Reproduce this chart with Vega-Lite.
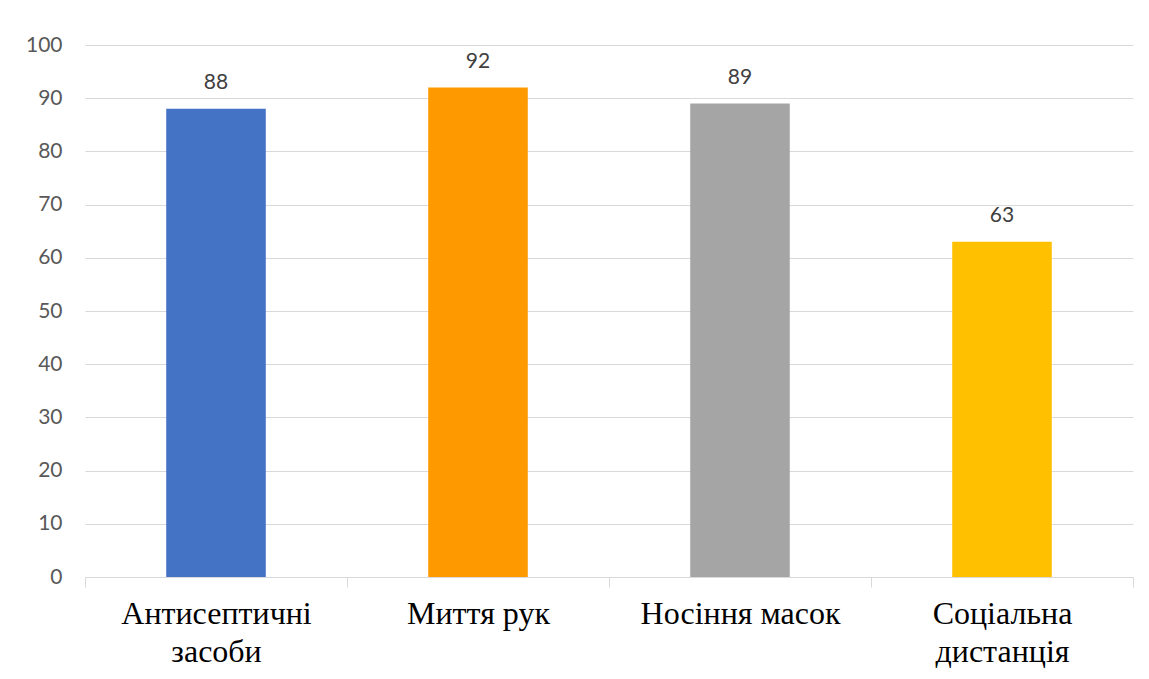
{
  "$schema": "https://vega.github.io/schema/vega-lite/v6.json",
  "width": 1048,
  "height": 532,
  "autosize": "none",
  "padding": {"left": 85, "top": 45, "right": 16, "bottom": 102},
  "background": "white",
  "config": {"view": {"stroke": null}},
  "data": {
    "values": [
      {"category": "Антисептичні засоби", "value": 88},
      {"category": "Миття рук", "value": 92},
      {"category": "Носіння масок", "value": 89},
      {"category": "Соціальна дистанція", "value": 63}
    ]
  },
  "encoding": {
    "x": {
      "field": "category",
      "type": "nominal",
      "sort": null,
      "scale": {"paddingInner": 0, "paddingOuter": 0},
      "axis": {
        "title": null,
        "labelAngle": 0,
        "labelFont": "Liberation Serif",
        "labelFontSize": 32,
        "labelColor": "#000000",
        "labelLineHeight": 38,
        "labelPadding": 11,
        "labelLimit": 0,
        "labelExpr": "indexof(['Антисептичні засоби', 'Соціальна дистанція'], datum.value) >= 0 ? split(datum.value, ' ') : datum.value",
        "tickBand": "extent",
        "tickSize": 10,
        "tickColor": "#d9d9d9",
        "domainColor": "#d9d9d9",
        "grid": false
      }
    },
    "y": {
      "field": "value",
      "type": "quantitative",
      "scale": {"domain": [0, 100]},
      "axis": {
        "title": null,
        "values": [0, 10, 20, 30, 40, 50, 60, 70, 80, 90, 100],
        "grid": true,
        "gridColor": "#d9d9d9",
        "domain": false,
        "ticks": false,
        "labelPadding": 23,
        "labelFont": "Lato",
        "labelFontSize": 21,
        "labelColor": "#595959"
      }
    }
  },
  "layer": [
    {
      "mark": {"type": "bar", "width": {"band": 0.38}},
      "encoding": {
        "color": {
          "field": "category",
          "type": "nominal",
          "scale": {
            "domain": ["Антисептичні засоби", "Миття рук", "Носіння масок", "Соціальна дистанція"],
            "range": ["#4472C4", "#FF9900", "#A5A5A5", "#FFC000"]
          },
          "legend": null
        }
      }
    },
    {
      "mark": {
        "type": "text",
        "baseline": "alphabetic",
        "dy": -20,
        "font": "Lato",
        "fontSize": 21,
        "color": "#404040"
      },
      "encoding": {"text": {"field": "value", "type": "quantitative"}}
    }
  ]
}
